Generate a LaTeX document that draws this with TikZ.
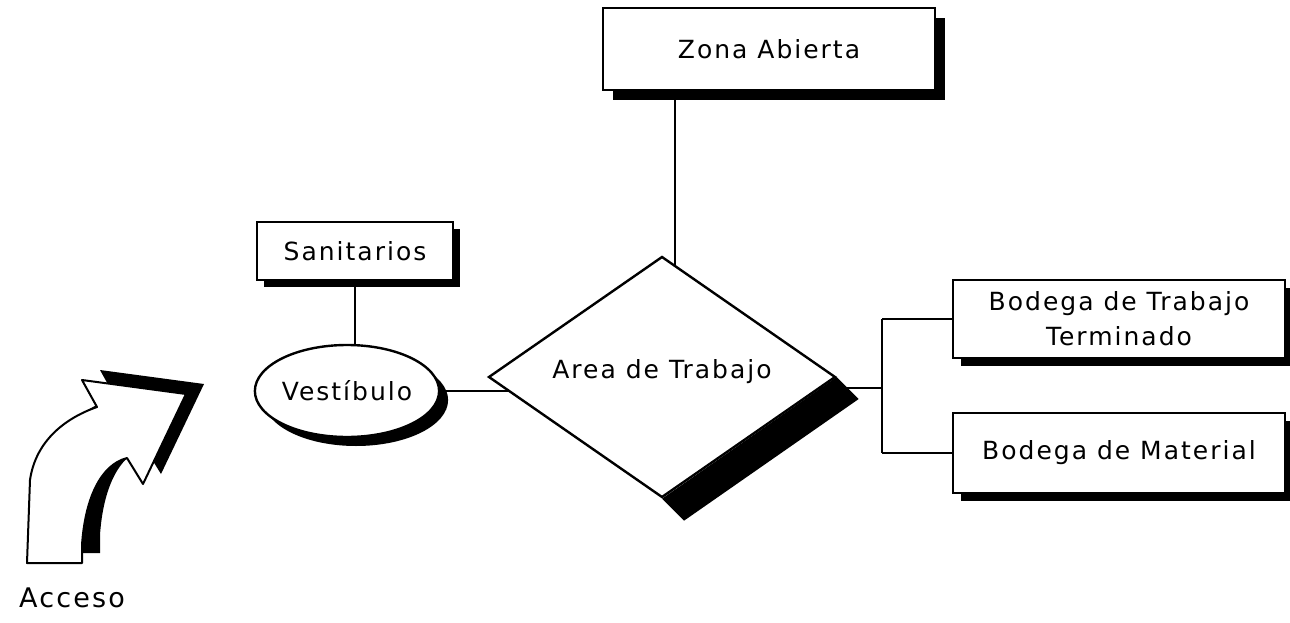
\documentclass[tikz,border=0pt]{standalone}
\usepackage{fontspec}
\setmainfont{DejaVu Sans}[LetterSpace=8]
\usetikzlibrary{shapes.geometric,shadows,backgrounds,calc}
\begin{document}
\begin{tikzpicture}[x=1pt,y=-1pt,
  lbl/.style={font=\fontsize{25}{35}\selectfont, align=center},
  shad/.style={drop shadow={shadow xshift=#1, shadow yshift=-#1, fill=black, opacity=1}},
  box/.style={lbl, draw, line width=2.4pt, fill=white, rectangle, inner sep=0pt},
  conn/.style={line width=2.4pt},
]
\begin{pgfonlayer}{background}
  \fill[white] (0,0) rectangle (1290,623);
\end{pgfonlayer}
\useasboundingbox (0,0) rectangle (1290,623);

% nodes
\node[box, shad=10pt, minimum width=332pt, minimum height=82pt] (zona) at (769,49) {Zona Abierta};
\node[box, shad=7pt, minimum width=196pt, minimum height=58pt] (sanit) at (355,251) {Sanitarios};
\node[lbl, ellipse, draw, line width=2.4pt, fill=white, inner sep=0pt, shad=9pt,
      minimum width=180pt, minimum height=92pt] (vest) at (347,391) {Vest\'ibulo};
\node[lbl, diamond, draw, line width=2.4pt, fill=white, inner sep=0pt, aspect=1.44,
      minimum width=347pt, minimum height=241pt] (area) at (662,377) {};
\node[lbl] (arealbl) at (662,372) {Area de Trabajo};
\node[box, shad=8pt, minimum width=332pt, minimum height=78pt] (bodT) at (1119,319) {Bodega de Trabajo\\Terminado};
\node[box, shad=8pt, minimum width=332pt, minimum height=80pt] (bodM) at (1119,453) {Bodega de Material};
\node[lbl, font=\fontsize{27}{35}\selectfont] (acceso) at (72,598) {Acceso};
\coordinate (j) at (882,388);

% connectors (behind nodes)
\begin{pgfonlayer}{background}
  \draw[conn] ($(zona.south)+(-94,0)$) -- ($(area.center)+(13,0)$);
  \draw[conn] (sanit.south) -- (sanit.south |- vest.center);
  \draw[conn] (vest.center) -- (vest.center -| area.center);
  \draw[conn] (area.center |- j) -- (j);
  \draw[conn] (bodT.west -| j) -- (bodM.west -| j);
  \draw[conn] (bodT.west -| j) -- (bodT.west);
  \draw[conn] (bodM.west -| j) -- (bodM.west);
  \fill[black] (area.east) -- ($(area.east)+(22,22)$) -- ($(area.south)+(22,22)$) -- (area.south) -- cycle;
\end{pgfonlayer}

% access arrow
\begin{scope}[shift={(18,-10)}]
  \fill[black] (27,563) -- (82,563) -- (82,545) .. controls (85,500) and (100,465) .. (127,458)
    -- (143,484) -- (186,394) -- (82,380) -- (97,407) .. controls (60,420) and (35,445) .. (30,480) -- cycle;
\end{scope}
\filldraw[fill=white, line width=2pt, line join=round]
  (27,563) -- (82,563) -- (82,545) .. controls (85,500) and (100,465) .. (127,458)
    -- (143,484) -- (186,394) -- (82,380) -- (97,407) .. controls (60,420) and (35,445) .. (30,480) -- cycle;
\end{tikzpicture}
\end{document}
